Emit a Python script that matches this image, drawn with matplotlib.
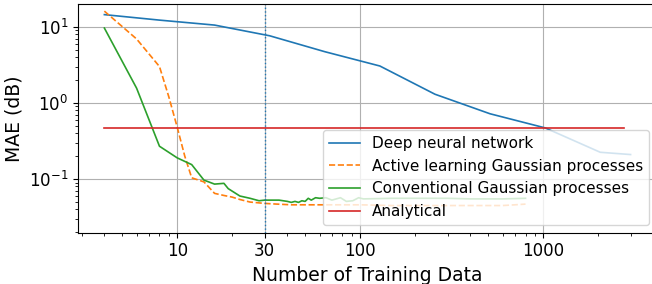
import matplotlib
matplotlib.use('agg')
import matplotlib.pyplot as plt
from matplotlib.ticker import NullFormatter

# deep neural network
n_dnn   = [4, 8, 16, 32, 64, 128, 256, 512, 1024, 2048, 3000]
mae_dnn = [14.4, 12.2, 10.5, 7.6, 4.7, 3.05, 1.30, 0.72, 0.47, 0.225, 0.21]

# active learning gaussian processes
n_al   = [4, 6, 8, 9, 10, 11, 12, 14, 16, 18, 20, 22, 25, 30, 35, 42, 50, 60, 80,
          100, 150, 200, 300, 400, 500, 600, 700, 800]
mae_al = [16.0, 6.9, 3.0, 1.2, 0.48, 0.2, 0.104, 0.092, 0.065, 0.061, 0.058, 0.054,
          0.050, 0.048, 0.047, 0.046, 0.046, 0.046, 0.046, 0.046, 0.045, 0.045,
          0.045, 0.045, 0.045, 0.045, 0.046, 0.047]

# conventional gaussian processes
n_gp   = [4, 6, 8, 10, 12, 14, 16, 18, 19, 22, 25, 28, 30, 36, 40, 42, 44, 46, 48,
          50, 52, 54, 57, 60, 65, 70, 78, 84, 91, 98, 104, 150, 200, 300, 400, 600, 800]
mae_gp = [9.6, 1.56, 0.27, 0.19, 0.155, 0.097, 0.086, 0.088, 0.075, 0.060, 0.056,
          0.052, 0.053, 0.053, 0.051, 0.0495, 0.051, 0.0495, 0.052, 0.051, 0.056,
          0.053, 0.057, 0.056, 0.057, 0.053, 0.057, 0.051, 0.052, 0.057, 0.055,
          0.056, 0.056, 0.056, 0.055, 0.055, 0.056]

# analytical
n_an   = [4, 2750]
mae_an = [0.47, 0.47]

x_ticks = [10, 30, 100, 1000]

fig = plt.figure(figsize=(6.52, 2.84), dpi=100)
ax = fig.add_axes([0.1196, 0.1806, 0.888, 0.805])

ax.plot(n_dnn, mae_dnn, color='tab:blue', linewidth=1.2, label='Deep neural network')
ax.plot(n_al, mae_al, color='tab:orange', linestyle='--', linewidth=1.2,
        label='Active learning Gaussian processes')
ax.plot(n_gp, mae_gp, color='tab:green', linewidth=1.2, label='Conventional Gaussian processes')
ax.plot(n_an, mae_an, color='tab:red', linewidth=1.2, label='Analytical')
ax.axvline(30, color='tab:blue', linestyle=':', linewidth=1)

ax.set_xscale('log')
ax.set_yscale('log')
ax.set_xlim(2.87, 4180)
ax.set_ylim(0.0198, 19.8)
ax.set_xticks(x_ticks)
ax.set_xticklabels([str(t) for t in x_ticks])
ax.xaxis.set_minor_formatter(NullFormatter())
ax.tick_params(labelsize=12)
ax.grid(True, which='major')

ax.set_xlabel('Number of Training Data', fontsize=13.5)
ax.set_ylabel('MAE (dB)', fontsize=13.5)
ax.legend(loc='lower right', fontsize=11)

fig.savefig('out.png', dpi=100)
